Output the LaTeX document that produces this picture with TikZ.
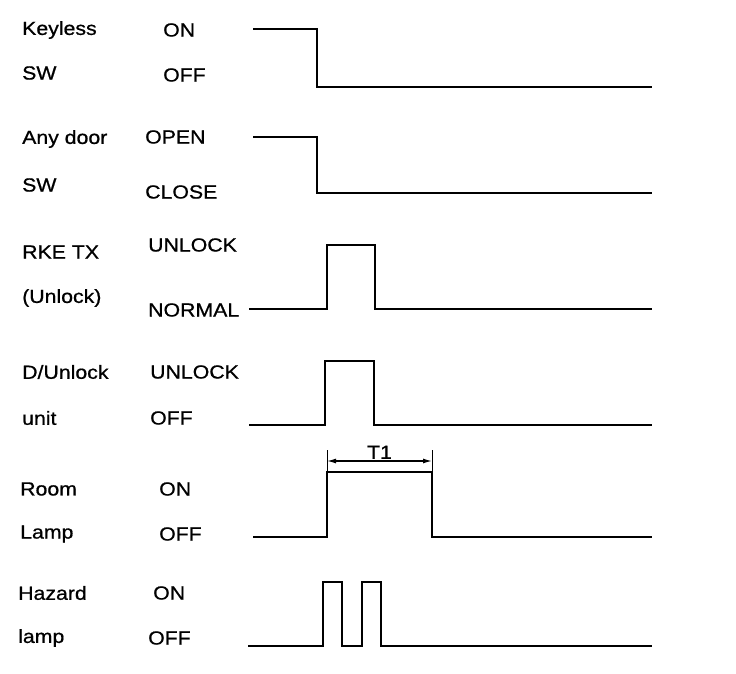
\documentclass[tikz,border=0pt]{standalone}
\usepackage{fontspec}
\setmainfont[FakeStretch=1.12,FakeBold=0.8]{Liberation Sans}
\usetikzlibrary{arrows.meta}
\tikzset{
  lbl/.style={anchor=west, inner sep=0pt, font=\fontsize{19}{21}\selectfont},
  wave/.style={line width=2.4pt, line join=miter},
  dim/.style={line width=1pt},
  dimarrow/.style={line width=1.3pt, {Latex[length=9pt,width=5pt]}-{Latex[length=9pt,width=5pt]}}
}
\begin{document}
\begin{tikzpicture}[x=1pt,y=-1pt]
\useasboundingbox (0,0) rectangle (736,674);
% labels
\node[lbl] (k1) at (22,30) {Keyless};
\node[lbl] (k2) at (163,30) {ON};
\node[lbl] (k3) at (22,73) {SW};
\node[lbl] (k4) at (163,75) {OFF};
\node[lbl] (d1) at (22,139) {Any door};
\node[lbl] (d2) at (145,137) {OPEN};
\node[lbl] (d3) at (22,185) {SW};
\node[lbl] (d4) at (145,192) {CLOSE};
\node[lbl] (r1) at (22,252) {RKE TX};
\node[lbl] (r2) at (148,245) {UNLOCK};
\node[lbl] (r3) at (22,298) {(Unlock)};
\node[lbl] (r4) at (148,310) {NORMAL};
\node[lbl] (u1) at (22,372) {D/Unlock};
\node[lbl] (u2) at (150,372) {UNLOCK};
\node[lbl] (u3) at (22,418) {unit};
\node[lbl] (u4) at (150,418) {OFF};
\node[lbl] (l1) at (20,489) {Room};
\node[lbl] (l2) at (159,489) {ON};
\node[lbl] (l3) at (20,534) {Lamp};
\node[lbl] (l4) at (159,534) {OFF};
\node[lbl] (h1) at (18,593) {Hazard};
\node[lbl] (h2) at (153,593) {ON};
\node[lbl] (h3) at (18,638) {lamp};
\node[lbl] (h4) at (148,638) {OFF};
% waveforms
\draw[wave] (253,29) -- (317,29) -- (317,87) -- (652,87);
\draw[wave] (253,137) -- (317,137) -- (317,193) -- (652,193);
\draw[wave] (249,309) -- (327,309) -- (327,245) -- (375,245) -- (375,309) -- (652,309);
\draw[wave] (249,425) -- (325,425) -- (325,361) -- (374,361) -- (374,425) -- (652,425);
\draw[wave] (253,537) -- (327,537) -- (327,472) -- (432,472) -- (432,537) -- (652,537);
\draw[wave] (248,646) -- (323,646) -- (323,582) -- (342,582) -- (342,646) -- (362,646) -- (362,582) -- (381,582) -- (381,646) -- (652,646);
% T1 dimension
\coordinate (t1a) at (327,450);
\coordinate (t1b) at (432,450);
\coordinate (t1c) at (327,472);
\coordinate (t1d) at (432,472);
\draw[dim] (t1a) -- (t1c);
\draw[dim] (t1b) -- (t1d);
\draw[dimarrow] (327,461) -- node[above=1.5pt, font=\fontsize{19}{21}\selectfont, inner sep=0pt] (t1) {T1} (432,461);
\end{tikzpicture}
\end{document}
